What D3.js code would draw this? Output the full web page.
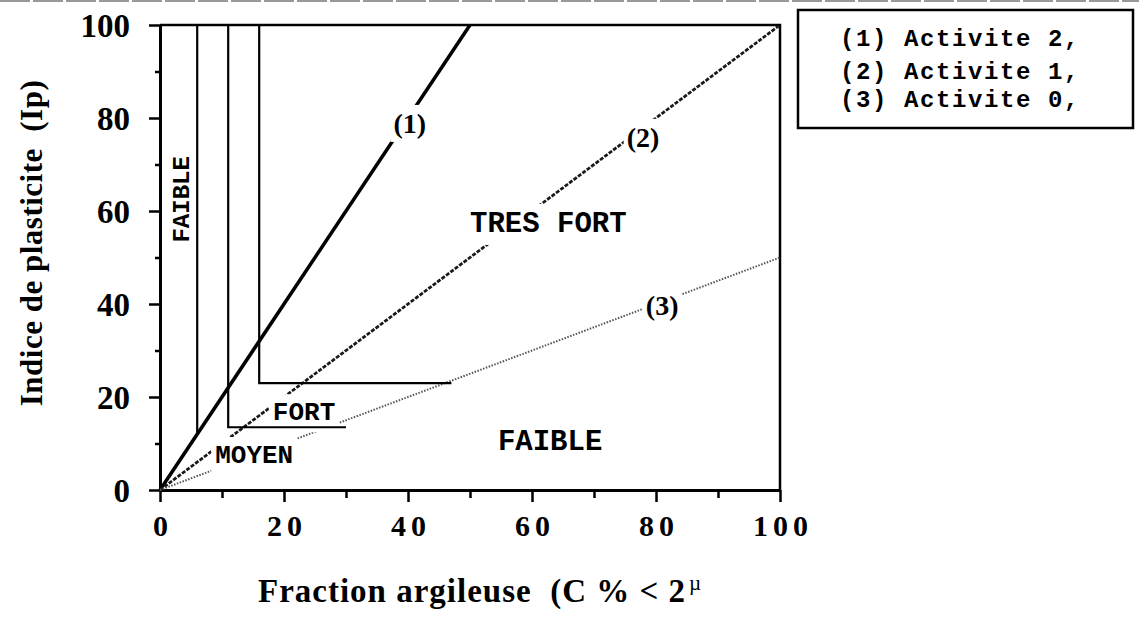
<!DOCTYPE html>
<html>
<head>
<meta charset="utf-8">
<script src="https://cdn.jsdelivr.net/npm/d3@7"></script>
<style>
    body { margin: 0; background: #fff; }
    svg { display: block; }
</style>
</head>
<body>
<svg id="drawing_region"></svg>
<script>
// tick values of both axes
const x_ticks = [0, 20, 40, 60, 80, 100];
const y_ticks = [0, 20, 40, 60, 80, 100];

// activity lines, all starting at the origin
const line_names = ['(1)', '(2)', '(3)'];
const line_end_c = [50, 100, 100];
const line_end_ip = [100, 100, 50];
const line_label_c = [40.3, 77.9, 81];
const line_label_ip = [78.9, 75.9, 39.8];

// class limits: vertical from Ip = 100 down to limit_ip, then across to limit_c_end
const limit_c = [6, 11, 16];
const limit_ip = [12, 13.5, 23];
const limit_c_end = [6, 30, 47];

// zone names
const zone_names = ['FAIBLE', 'MOYEN', 'FORT', 'TRES FORT', 'FAIBLE'];
const zone_c = [3.4, 8.9, 18.2, 50, 54.5];
const zone_ip = [62.5, 5.8, 15, 55.5, 8.6];
const zone_vertical = [true, false, false, false, false];

const legend_labels = ['(1) Activite 2,', '(2) Activite 1,', '(3) Activite 0,'];

class ActivityChart {

    constructor( config ) {
        this.config = config;
        this.init();
    }

    init() {
        let self = this;

        self.svg = d3.select( self.config.parent )
            .attr('width', self.config.width)
            .attr('height', self.config.height);

        self.inner_width = self.config.width - self.config.margin.left - self.config.margin.right;
        self.inner_height = self.config.height - self.config.margin.top - self.config.margin.bottom;

        self.chart = self.svg.append('g')
            .attr('transform', `translate(${self.config.margin.left}, ${self.config.margin.top})`);

        self.xscale = d3.scaleLinear().domain([0, 100]).range([0, self.inner_width]);
        self.yscale = d3.scaleLinear().domain([0, 100]).range([self.inner_height, 0]);
    }

    render() {
        let self = this;
        const serif = "'Liberation Serif', 'Times New Roman', serif";
        const mono = "'Liberation Mono', 'Courier New', monospace";

        // scan edge at the very top
        self.svg.append('line')
            .attr('x1', 0).attr('x2', self.config.width)
            .attr('y1', 1).attr('y2', 1)
            .attr('stroke', '#999')
            .attr('stroke-width', 2)
            .attr('stroke-dasharray', '30,3');

        // frame (top and right)
        self.chart.append('path')
            .attr('d', `M0,0H${self.inner_width}V${self.inner_height}`)
            .attr('fill', 'none')
            .attr('stroke', 'black')
            .attr('stroke-width', 2.5);

        // axes
        const xaxis = d3.axisBottom(self.xscale)
            .tickValues(d3.range(0, 101, 10))
            .tickSize(0)
            .tickFormat('');
        const xg = self.chart.append('g')
            .attr('transform', `translate(0, ${self.inner_height})`)
            .call(xaxis);
        xg.selectAll('.tick line')
            .attr('y2', d => d % 20 === 0 ? 12 : 8)
            .attr('stroke-width', 2.5);
        xg.select('.domain').attr('stroke-width', 3);

        const yaxis = d3.axisLeft(self.yscale)
            .tickValues(d3.range(0, 101, 10))
            .tickSize(0)
            .tickFormat('');
        const yg = self.chart.append('g').call(yaxis);
        yg.selectAll('.tick line')
            .attr('x2', d => d % 20 === 0 ? -11 : -5)
            .attr('stroke-width', 2.5);
        yg.select('.domain').attr('stroke-width', 3);

        self.chart.selectAll('.xlab')
            .data(x_ticks)
            .join('text')
            .attr('class', 'xlab')
            .attr('x', d => self.xscale(d) + 3)
            .attr('y', self.inner_height + 46)
            .attr('text-anchor', 'middle')
            .style('font-family', serif)
            .style('font-weight', 'bold')
            .style('font-size', '30px')
            .style('letter-spacing', '5px')
            .text(d => d);

        self.chart.selectAll('.ylab')
            .data(y_ticks)
            .join('text')
            .attr('class', 'ylab')
            .attr('x', -30)
            .attr('y', d => self.yscale(d))
            .attr('dy', '0.36em')
            .attr('text-anchor', 'end')
            .style('font-family', serif)
            .style('font-weight', 'bold')
            .style('font-size', '33px')
            .text(d => d);

        // activity lines
        const line_color = ['#000', '#1a1a1a', '#555'];
        const line_width = [3.5, 2.8, 2];
        const line_dash = [null, '4,1.5', '1.5,1.5'];
        self.chart.selectAll('.activity')
            .data(line_names)
            .join('line')
            .attr('class', 'activity')
            .attr('x1', self.xscale(0))
            .attr('y1', self.yscale(0))
            .attr('x2', (d, i) => self.xscale(line_end_c[i]))
            .attr('y2', (d, i) => self.yscale(line_end_ip[i]))
            .attr('stroke', (d, i) => line_color[i])
            .attr('stroke-width', (d, i) => line_width[i])
            .attr('stroke-dasharray', (d, i) => line_dash[i]);

        // labels with a white patch behind them so the activity lines break around the text
        const patched = (g, pad) => {
            g.each(function() {
                const t = d3.select(this).select('text');
                const b = t.node().getBBox();
                d3.select(this).insert('rect', 'text')
                    .attr('x', b.x - pad).attr('y', b.y - pad)
                    .attr('width', b.width + 2 * pad).attr('height', b.height + 2 * pad)
                    .attr('fill', 'white');
            });
        };

        const line_labels = self.chart.selectAll('.line-label')
            .data(line_names)
            .join('g')
            .attr('class', 'line-label')
            .attr('transform', (d, i) => `translate(${self.xscale(line_label_c[i])}, ${self.yscale(line_label_ip[i])})`);
        line_labels.append('text')
            .attr('text-anchor', 'middle')
            .attr('dy', '0.35em')
            .style('font-family', serif)
            .style('font-weight', 'bold')
            .style('font-size', '28px')
            .text(d => d);
        patched(line_labels, 3);

        const zones = self.chart.selectAll('.zone')
            .data(zone_names)
            .join('g')
            .attr('class', 'zone')
            .attr('transform', (d, i) => `translate(${self.xscale(zone_c[i])}, ${self.yscale(zone_ip[i])})` + (zone_vertical[i] ? ' rotate(-90)' : ''));
        zones.append('text')
            .attr('text-anchor', (d, i) => zone_vertical[i] ? 'middle' : 'start')
            .attr('dy', (d, i) => zone_vertical[i] ? '0.35em' : 0)
            .style('font-family', mono)
            .style('font-weight', 'bold')
            .style('font-size', (d, i) => i === 0 ? '24px' : (i === 1 || i === 2 ? '26px' : '29px'))
            .text(d => d);
        patched(zones.filter((d, i) => !zone_vertical[i]), 4);

        // class limit lines, drawn over the label patches
        self.chart.selectAll('.limit')
            .data(limit_c)
            .join('path')
            .attr('class', 'limit')
            .attr('d', (d, i) => d3.line()([
                [self.xscale(d), self.yscale(100)],
                [self.xscale(d), self.yscale(limit_ip[i])],
                [self.xscale(limit_c_end[i]), self.yscale(limit_ip[i])]
            ]))
            .attr('fill', 'none')
            .attr('stroke', 'black')
            .attr('stroke-width', 2.2);

        // axis titles
        self.svg.append('text')
            .attr('transform', `translate(42, ${self.config.margin.top + 218}) rotate(-90)`)
            .attr('text-anchor', 'middle')
            .style('font-family', serif)
            .style('font-weight', 'bold')
            .style('font-size', '31px')
            .style('letter-spacing', '0.5px')
            .style('white-space', 'pre')
            .text('Indice de plasticite  (Ip)');

        const xt = self.svg.append('text')
            .attr('x', 258)
            .attr('y', 602)
            .style('font-family', serif)
            .style('font-weight', 'bold')
            .style('font-size', '33px')
            .style('letter-spacing', '1px')
            .style('white-space', 'pre');
        xt.append('tspan').text('Fraction argileuse  (C % < 2');
        xt.append('tspan')
            .attr('dy', -12)
            .attr('dx', 3)
            .style('font-size', '21px')
            .style('font-weight', 'normal')
            .text('\u00B5');

        // legend
        const lg = self.svg.append('g')
            .attr('transform', `translate(${self.config.legend.x}, ${self.config.legend.y})`);
        lg.append('rect')
            .attr('width', self.config.legend.width)
            .attr('height', self.config.legend.height)
            .attr('fill', 'white')
            .attr('stroke', 'black')
            .attr('stroke-width', 2.5);
        const row_y = [36, 69, 97];
        lg.selectAll('text')
            .data(legend_labels)
            .join('text')
            .attr('x', 42)
            .attr('y', (d, i) => row_y[i])
            .style('font-family', mono)
            .style('font-weight', 'bold')
            .style('font-size', '24px')
            .style('letter-spacing', '1.6px')
            .style('white-space', 'pre')
            .text(d => d);
    }
}

const chart = new ActivityChart({
    parent: '#drawing_region',
    width: 1139,
    height: 633,
    margin: {top: 25, right: 359, bottom: 143, left: 160},
    legend: {x: 798, y: 10, width: 335, height: 118}
});
chart.render();
</script>
</body>
</html>
